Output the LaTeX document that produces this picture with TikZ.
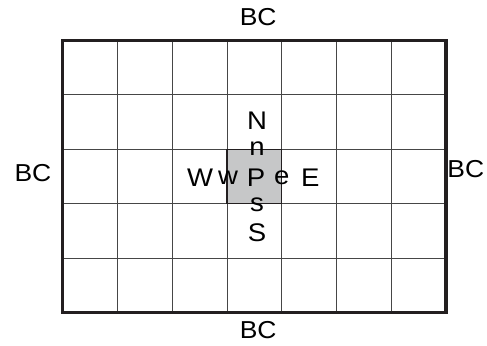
\documentclass[tikz,border=0pt]{standalone}
\usepackage{fontspec}
\setmainfont[FakeStretch=1.08]{Liberation Sans}
\usetikzlibrary{positioning}
\definecolor{fvline}{RGB}{35,31,32}
\definecolor{fvgrid}{RGB}{70,70,70}
\definecolor{fvcell}{RGB}{198,199,200}
\tikzset{
  fvOuter/.style={draw=fvline, line width=3.4pt},
  fvGrid/.style={draw=fvgrid, line width=0.8pt},
  fvCell/.style={draw=fvline, line width=1.2pt, fill=fvcell, inner sep=0pt,
                 minimum width=54.8pt, minimum height=54.4pt},
  fvBig/.style={inner sep=0pt, font=\fontsize{25.5}{26}\selectfont},
  fvFace/.style={inner sep=0pt, font=\fontsize{25.5}{26}\selectfont},
  fvBC/.style={inner sep=0pt, font=\fontsize{24.5}{25}\selectfont}
}

\begin{document}
\begin{tikzpicture}[x=54.8pt,y=54.4pt]
  \useasboundingbox (-1.1405,-0.616) rectangle (7.746,5.744);
  % grid of control volumes
  \foreach \i in {1,...,6} \draw[fvGrid] (\i,0) -- (\i,5);
  \foreach \j in {1,...,4} \draw[fvGrid] (0,\j) -- (7,\j);
  \node[fvCell] (cellP) at (3.5,2.5) {};
  \draw[fvOuter] (0,0) rectangle (7,5);

  % boundary labels
  \node[fvBC] (bcN) at (3.57,5.43) {BC};
  \node[fvBC] (bcS) at (3.57,-0.32) {BC};
  \node[fvBC] (bcW) at (-0.54,2.57) {BC};
  \node[fvBC] (bcE) at (7.36,2.63) {BC};

  % node and face labels
  \node[fvBig] (P) at (3.53,2.47) {P};
  \node[fvBig] (N) at (3.55,3.52) {N};
  \node[fvBig] (S) at (3.55,1.46) {S};
  \node[fvBig] (W) at (2.51,2.47) {W};
  \node[fvBig] (E) at (4.52,2.47) {E};
  \node[fvFace] (n) at (3.55,3.02) {n};
  \node[fvFace] (s) at (3.55,1.98) {s};
  \node[fvFace] (w) at (3.02,2.47) {w};
  \node[fvFace] (e) at (4.00,2.47) {e};
\end{tikzpicture}
\end{document}
